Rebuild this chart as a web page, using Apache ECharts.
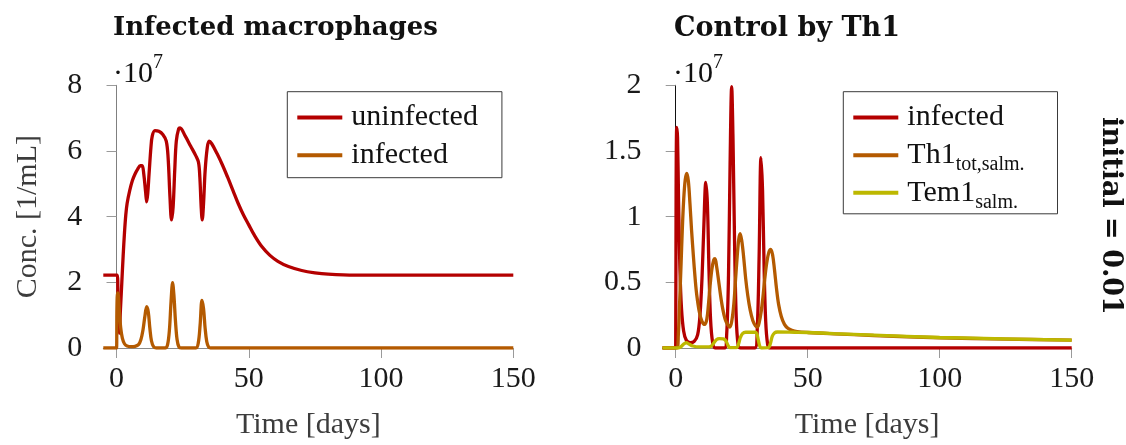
<!DOCTYPE html>
<html>
<head>
<meta charset="utf-8">
<script src="https://cdn.jsdelivr.net/npm/echarts@6/dist/echarts.min.js"></script>
<style>
  html, body { margin: 0; padding: 0; background: #fff; }
  #chart { width: 1126px; height: 445px; }
</style>
</head>
<body>
<div id="chart"></div>
<script>
// Time axis ticks (days) and concentration ticks (units of 10^7 per mL)
const xTicks = [0, 50, 100, 150];
const yTicksLeft = [0, 2, 4, 6, 8];
const yTicksRight = [0, 0.5, 1, 1.5, 2];

// Uninfected macrophages [day, conc ·10^7]
const uninfected = [
  [-5, 2.22], [0.3, 2.22], [0.6, 1.0], [1.0, 0.45], [1.5, 1.2], [2.0, 2.0], [2.5, 2.8],
  [3.0, 3.5], [3.5, 4.05], [4.0, 4.4], [5, 4.8], [6, 5.1], [7, 5.3], [8, 5.45], [9, 5.55],
  [9.7, 5.55], [10.3, 5.3], [11, 4.75], [11.4, 4.45], [11.8, 4.7], [12.3, 5.3], [13, 6.1],
  [13.5, 6.45], [14.5, 6.62], [16, 6.6], [17.5, 6.5], [18.8, 6.3], [19.5, 5.8], [20.2, 4.6],
  [20.8, 3.9], [21.4, 4.3], [22, 5.4], [22.6, 6.3], [23.5, 6.68], [24, 6.7], [26, 6.45],
  [28, 6.15], [30, 5.85], [31, 5.65], [31.5, 5.2], [32, 4.3], [32.4, 3.9], [32.9, 4.4],
  [33.5, 5.4], [34.3, 6.1], [35, 6.3], [36, 6.22], [38, 5.92], [40, 5.58], [42, 5.2],
  [44, 4.8], [46, 4.4], [48, 4.05], [50, 3.75], [52, 3.45], [55, 3.08], [58, 2.82],
  [61, 2.64], [65, 2.48], [70, 2.36], [75, 2.29], [80, 2.25], [90, 2.22], [100, 2.22], [150, 2.22]
];

// Infected macrophages [day, conc ·10^7]
const infected = [
  [-5, 0], [0, 0], [0.15, 1.2], [0.4, 1.68], [0.7, 1.6], [1.1, 1.1], [1.6, 0.6], [2.2, 0.3],
  [3, 0.13], [4, 0.06], [5.5, 0.04], [7, 0.05], [8.3, 0.1], [9.2, 0.25], [10, 0.55],
  [10.7, 0.95], [11.4, 1.26], [12, 1.1], [12.6, 0.6], [13.2, 0.22], [14, 0.04], [15, 0],
  [18.5, 0], [19.3, 0.1], [20, 0.55], [20.6, 1.4], [21.2, 1.99], [21.7, 1.6], [22.3, 0.8],
  [22.9, 0.25], [23.6, 0.03], [24.5, 0], [30, 0], [30.9, 0.15], [31.6, 0.7], [32.3, 1.45],
  [32.9, 1.2], [33.5, 0.6], [34.1, 0.2], [34.8, 0.03], [35.5, 0], [150, 0]
];

// Th1 total (salmonella-specific) [day, conc ·10^7]
const th1Total = [
  [-5, 0], [0.5, 0], [1, 0.1], [1.5, 0.35], [2, 0.62], [2.5, 0.9], [3, 1.12], [3.6, 1.28],
  [4.2, 1.33], [4.8, 1.27], [5.4, 1.1], [6, 0.9], [6.7, 0.7], [7.4, 0.52], [8, 0.4],
  [9, 0.27], [10, 0.2], [11, 0.18], [11.8, 0.22], [12.4, 0.33], [13, 0.47], [13.7, 0.6],
  [14.4, 0.67], [14.9, 0.68], [15.5, 0.62], [16.2, 0.52], [17, 0.4], [17.8, 0.3],
  [18.7, 0.22], [19.6, 0.18], [20.5, 0.16], [21.2, 0.2], [22, 0.33], [22.6, 0.5],
  [23.3, 0.7], [23.9, 0.83], [24.4, 0.87], [25, 0.82], [25.7, 0.7], [26.5, 0.53],
  [27.3, 0.4], [28.2, 0.29], [29.2, 0.21], [30.2, 0.17], [31, 0.16], [31.7, 0.2],
  [32.4, 0.28], [33, 0.38], [33.7, 0.52], [34.5, 0.65], [35.3, 0.73], [36, 0.75],
  [36.7, 0.71], [37.4, 0.6], [38.2, 0.45], [39, 0.33], [40, 0.24], [41.2, 0.18],
  [42.5, 0.15], [44, 0.135], [46, 0.125], [50, 0.118], [60, 0.108], [75, 0.095],
  [100, 0.078], [125, 0.068], [150, 0.06]
];

// Tem1 (salmonella-specific) [day, conc ·10^7]
const tem1 = [
  [-5, 0], [1, 0], [2, 0.01], [3, 0.03], [4, 0.04], [5, 0.03], [6.5, 0.015], [9, 0.008],
  [12, 0.008], [13.5, 0.015], [14.5, 0.04], [15.5, 0.065], [16.5, 0.072], [18, 0.07],
  [19, 0.055], [19.8, 0.02], [20.5, 0.003], [23, 0.003], [23.8, 0.03], [24.5, 0.08],
  [25.3, 0.11], [26.5, 0.12], [30, 0.12], [30.7, 0.11], [31.3, 0.06], [31.9, 0.01],
  [32.5, 0], [35, 0.002], [35.8, 0.03], [36.6, 0.09], [37.4, 0.115], [38.5, 0.122],
  [45, 0.12], [50, 0.118], [60, 0.11], [75, 0.098], [100, 0.08], [125, 0.07], [150, 0.06]
];

const RED = '#b40000';
const ORANGE = '#b45a00';
const OLIVE = '#bdb800';
const SERIF = '"Liberation Serif", "Times New Roman", serif';
const BOLD = '"DejaVu Serif", serif';
const LW = 3.3;
const SMOOTH = 0.35;

function xAxisFor(grid) {
  return {
    type: 'value', gridIndex: grid, min: -5, max: 150,
    name: 'Time [days]', nameLocation: 'middle', nameGap: 62,
    nameTextStyle: { fontFamily: SERIF, fontSize: 30, color: '#3c3c3c' },
    axisLine: { show: true, onZero: false, lineStyle: { color: '#8a8a8a', width: 1 } },
    axisTick: { show: true, length: 10, customValues: xTicks, lineStyle: { color: '#9a9a9a', width: 1 } },
    axisLabel: { customValues: xTicks, margin: 16, fontFamily: SERIF, fontSize: 30, color: '#1a1a1a' },
    splitLine: { show: false }
  };
}

function yAxisFor(grid, ticks, axisColor, extra) {
  return Object.assign({
    type: 'value', gridIndex: grid, min: ticks[0], max: ticks[ticks.length - 1],
    interval: ticks[1] - ticks[0],
    axisLine: { show: true, lineStyle: { color: axisColor, width: 1 } },
    axisTick: { show: true, length: 10, lineStyle: { color: '#9a9a9a', width: 1 } },
    axisLabel: { margin: 21, fontFamily: SERIF, fontSize: 30, color: '#1a1a1a' },
    splitLine: { show: false }
  }, extra || {});
}

const legendRich = {
  a: { fontFamily: SERIF, fontSize: 30, color: '#111', verticalAlign: 'top' },
  s: { fontFamily: SERIF, fontSize: 20, lineHeight: 20, padding: [15, 0, 0, 0], color: '#111', verticalAlign: 'top' }
};
const legendLabels = {
  'uninfected': '{a|uninfected}{s| }',
  'infected': '{a|infected}{s| }',
  'Th1': '{a|Th1}{s|tot,salm.}',
  'Tem1': '{a|Tem1}{s|salm.}'
};
function legendFor(left, items, padding) {
  return {
    orient: 'vertical', left: left, top: 91.7,
    icon: 'rect', itemWidth: 45, itemHeight: 4, itemGap: 2.6,
    padding: padding,
    borderColor: '#3a3a3a', borderWidth: 1, backgroundColor: '#fff',
    selectedMode: false,
    data: items,
    formatter: n => legendLabels[n],
    textStyle: { padding: [0, 0, 0, 4], rich: legendRich }
  };
}

function seriesFor(name, data, color, grid) {
  return {
    name: name, type: 'line', xAxisIndex: grid, yAxisIndex: grid, data: data,
    symbol: 'none', smooth: SMOOTH,
    lineStyle: { color: color, width: LW }, itemStyle: { color: color }
  };
}

const chart = echarts.init(document.getElementById('chart'), null, { renderer: 'canvas' });

chart.setOption({
  animation: false,
  backgroundColor: '#ffffff',
  grid: [
    { left: 103.3, right: 612.7, top: 85.3, bottom: 95.5 },
    { left: 662.5, right: 54.3, top: 85.3, bottom: 95.5 }
  ],
  xAxis: [xAxisFor(0), xAxisFor(1)],
  yAxis: [
    yAxisFor(0, yTicksLeft, '#808080', {
      name: 'Conc. [1/mL]', nameLocation: 'middle', nameGap: 60,
      nameTextStyle: { fontFamily: SERIF, fontSize: 30, color: '#3c3c3c' }
    }),
    yAxisFor(1, yTicksRight, '#111111')
  ],
  legend: [
    legendFor(287.3, [
      { name: 'uninfected', itemStyle: { color: RED } },
      { name: 'infected', itemStyle: { color: ORANGE } }
    ], [10.9, 19, 2.5, 10]),
    legendFor(843.3, [
      { name: 'infected', itemStyle: { color: RED } },
      { name: 'Th1', itemStyle: { color: ORANGE } },
      { name: 'Tem1', itemStyle: { color: OLIVE } }
    ], [10.9, 33, 1, 10])
  ],
  graphic: [
    { type: 'text', left: 113, top: 15,
      style: { text: 'Infected macrophages', fontFamily: BOLD, fontWeight: 'bold', fontSize: 26, fill: '#111' } },
    { type: 'text', left: 674, top: 15,
      style: { text: 'Control by Th1', fontFamily: BOLD, fontWeight: 'bold', fontSize: 27, fill: '#111' } },
    { type: 'text', x: 113, y: 74,
      style: { text: '·10', fontFamily: SERIF, fontSize: 30, fill: '#111', verticalAlign: 'middle' } },
    { type: 'text', x: 153, y: 63,
      style: { text: '7', fontFamily: SERIF, fontSize: 20, fill: '#111', verticalAlign: 'middle' } },
    { type: 'text', x: 673, y: 74,
      style: { text: '·10', fontFamily: SERIF, fontSize: 30, fill: '#111', verticalAlign: 'middle' } },
    { type: 'text', x: 713, y: 63,
      style: { text: '7', fontFamily: SERIF, fontSize: 20, fill: '#111', verticalAlign: 'middle' } },
    { type: 'text', x: 1110, y: 216, rotation: -Math.PI / 2,
      style: { text: 'initial = 0.01', fontFamily: BOLD, fontWeight: 'bold', fontSize: 27,
        fill: '#111', align: 'center', verticalAlign: 'middle' } }
  ],
  series: [
    seriesFor('uninfected', uninfected, RED, 0),
    seriesFor('infected', infected, ORANGE, 0),
    seriesFor('infected', infected, RED, 1),
    seriesFor('Th1', th1Total, ORANGE, 1),
    seriesFor('Tem1', tem1, OLIVE, 1)
  ]
});
</script>
</body>
</html>
